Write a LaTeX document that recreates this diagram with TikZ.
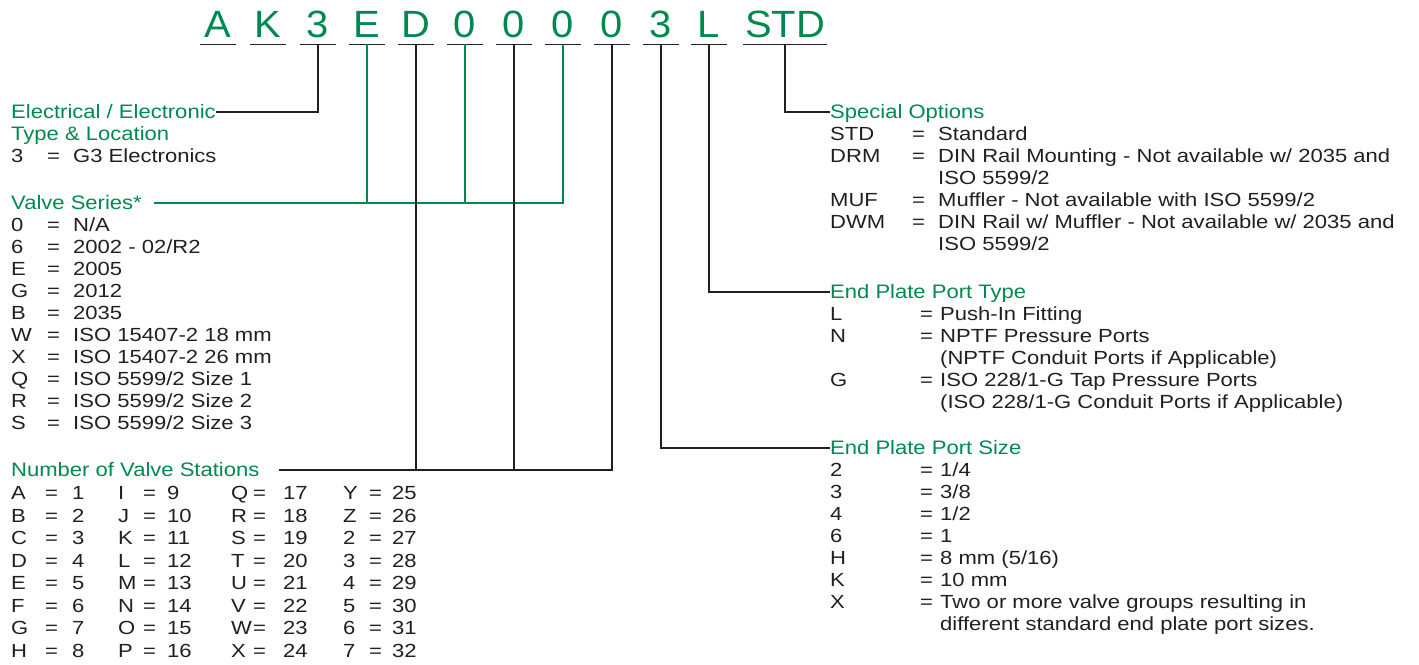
\documentclass[tikz,border=0pt]{standalone}
\usepackage{fontspec}
\usepackage{array}
\setmainfont{Liberation Sans}[FakeStretch=1.16]
\newfontfamily\headfont{Liberation Sans}[FakeStretch=1.13]
\newfontfamily\codefont{Liberation Sans}[FakeStretch=1.05]
\definecolor{vgreen}{RGB}{0,137,79}
\definecolor{vblack}{RGB}{35,31,32}
\usetikzlibrary{positioning}

\begin{document}
\begin{tikzpicture}[x=1pt, y=-1pt, font=\fontsize{19}{22}\selectfont, text=vblack]
    \tikzset{code/.style={anchor=base, inner sep=0pt, minimum width=35pt, text depth=7pt, text=vgreen, font=\codefont\fontsize{38}{40}\selectfont},
        head/.style={anchor=west, inner sep=0pt, text height=13.5pt, text depth=0pt, text=vgreen, font=\headfont\fontsize{19.5}{22}\selectfont},
        lst/.style={anchor=base west, inner sep=0pt, align=left},
        ln/.style={draw=vblack, line width=1.1pt},
        gln/.style={draw=vgreen, line width=1.1pt}}
    \useasboundingbox (0,0) rectangle (1419,664);

    % model code
    \foreach \x/\t/\n in {218/A/c1, 268/K/c2, 318/3/c3, 367/E/c4, 416/D/c5, 465/0/c6, 514/0/c7, 563/0/c8, 612/0/c9, 661/3/c10, 709/L/c11}
        \node[code] (\n) at (\x,37) {\t};
    \node[code, minimum width=83pt] (c12) at (785,37) {STD};
    \foreach \n in {c1,c2,c3,c4,c5,c6,c7,c8,c9,c10,c11,c12}
        \draw[line width=1.1pt, vblack] (\n.south west) -- (\n.south east);

    % left column
    \node[head] (elec) at (11,112) {Electrical / Electronic};
    \node[lst] (eleclist) at ([yshift=-22pt]elec.base west) {\begin{tabular}[t]{@{}p{36pt}@{}p{26pt}@{}l@{}}
        \multicolumn{3}{@{}l@{}}{\headfont\fontsize{19.5}{22}\selectfont\color{vgreen}Type \& Location}\\
        3 & = & G3 Electronics
    \end{tabular}};

    \node[head] (series) at (11,203) {Valve Series*};
    \node[lst] (serieslist) at ([yshift=-22pt]series.base west) {\begin{tabular}[t]{@{}p{36pt}@{}p{26pt}@{}l@{}}
        0 & = & N/A\\
        6 & = & 2002 - 02/R2\\
        E & = & 2005\\
        G & = & 2012\\
        B & = & 2035\\
        W & = & ISO 15407-2 18 mm\\
        X & = & ISO 15407-2 26 mm\\
        Q & = & ISO 5599/2 Size 1\\
        R & = & ISO 5599/2 Size 2\\
        S & = & ISO 5599/2 Size 3
    \end{tabular}};

    \node[head] (stations) at (11,470) {Number of Valve Stations};
    \node[lst, font=\fontsize{19}{22.5}\selectfont] (stationlist) at ([yshift=-23pt]stations.base west) {\begin{tabular}[t]{@{}p{34pt}@{}p{27pt}@{}p{46pt}@{}p{25pt}@{}p{24pt}@{}p{64pt}@{}p{22pt}@{}p{30pt}@{}p{60pt}@{}p{26pt}@{}l@{}}
        A & = & 1 & I & = & 9  & Q & = & 17 & Y & = \hspace{4pt}25\\
        B & = & 2 & J & = & 10 & R & = & 18 & Z & = \hspace{4pt}26\\
        C & = & 3 & K & = & 11 & S & = & 19 & 2 & = \hspace{4pt}27\\
        D & = & 4 & L & = & 12 & T & = & 20 & 3 & = \hspace{4pt}28\\
        E & = & 5 & M & = & 13 & U & = & 21 & 4 & = \hspace{4pt}29\\
        F & = & 6 & N & = & 14 & V & = & 22 & 5 & = \hspace{4pt}30\\
        G & = & 7 & O & = & 15 & W & = & 23 & 6 & = \hspace{4pt}31\\
        H & = & 8 & P & = & 16 & X & = & 24 & 7 & = \hspace{4pt}32
    \end{tabular}};

    % right column
    \node[head] (spec) at (830,112) {Special Options};
    \node[lst] (speclist) at ([yshift=-22pt]spec.base west) {\begin{tabular}[t]{@{}p{82pt}@{}p{26pt}@{}l@{}}
        STD & = & Standard\\
        DRM & = & DIN Rail Mounting - Not available w/ 2035 and\\
            &   & ISO 5599/2\\
        MUF & = & Muffler - Not available with ISO 5599/2\\
        DWM & = & DIN Rail w/ Muffler - Not available w/ 2035 and\\
            &   & ISO 5599/2
    \end{tabular}};

    \node[head] (ptype) at (830,292) {End Plate Port Type};
    \node[lst] (ptypelist) at ([yshift=-22pt]ptype.base west) {\begin{tabular}[t]{@{}p{90pt}@{}p{20pt}@{}l@{}}
        L & = & Push-In Fitting\\
        N & = & NPTF Pressure Ports\\
          &   & (NPTF Conduit Ports if Applicable)\\
        G & = & ISO 228/1-G Tap Pressure Ports\\
          &   & (ISO 228/1-G Conduit Ports if Applicable)
    \end{tabular}};

    \node[head] (psize) at (830,448) {End Plate Port Size};
    \node[lst] (psizelist) at ([yshift=-22pt]psize.base west) {\begin{tabular}[t]{@{}p{90pt}@{}p{20pt}@{}l@{}}
        2 & = & 1/4\\
        3 & = & 3/8\\
        4 & = & 1/2\\
        6 & = & 1\\
        H & = & 8 mm (5/16)\\
        K & = & 10 mm\\
        X & = & Two or more valve groups resulting in\\
          &   & different standard end plate port sizes.
    \end{tabular}};

    % connectors
    \draw[ln] (c3.south) |- (elec.east);
    \draw[gln] ([xshift=12pt]series.east) -| (c8.south);
    \draw[gln] (c4.south) -- (c4.south |- series.east);
    \draw[gln] (c6.south) -- (c6.south |- series.east);
    \draw[ln] ([xshift=19pt]stations.east) -| (c9.south);
    \draw[ln] (c5.south) -- (c5.south |- stations.east);
    \draw[ln] (c7.south) -- (c7.south |- stations.east);
    \draw[ln] (c12.south) |- (spec.west);
    \draw[ln] (c11.south) |- (ptype.west);
    \draw[ln] (c10.south) |- (psize.west);
\end{tikzpicture}
\end{document}
